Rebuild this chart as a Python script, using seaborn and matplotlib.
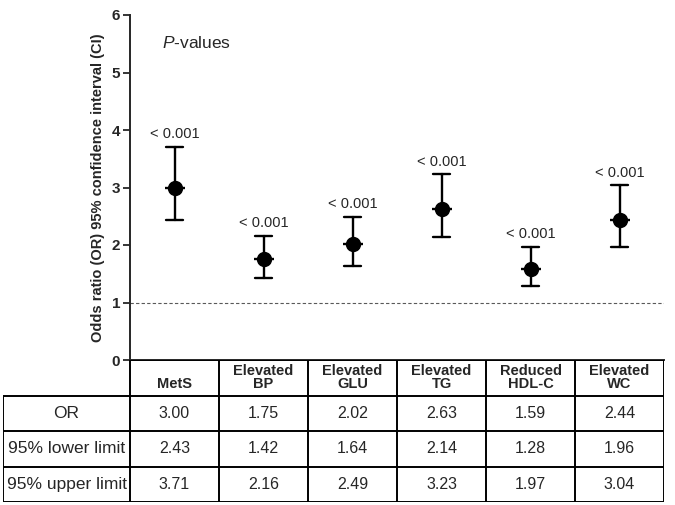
import numpy as np
import pandas as pd
import seaborn as sns
import matplotlib.pyplot as plt

groups = ["MetS", "Elevated\nBP", "Elevated\nGLU", "Elevated\nTG", "Reduced\nHDL-C", "Elevated\nWC"]
or_vals = [3.00, 1.75, 2.02, 2.63, 1.59, 2.44]
lower = [2.43, 1.42, 1.64, 2.14, 1.28, 1.96]
upper = [3.71, 2.16, 2.49, 3.23, 1.97, 3.04]
p_labels = ["< 0.001", "< 0.001", "< 0.001", "< 0.001", "< 0.001", "< 0.001"]
row_labels = ["OR", "95% lower limit", "95% upper limit"]

sns.set_style("ticks")
plt.rcParams['font.family'] = ['Liberation Sans', 'DejaVu Sans']
plt.rcParams['mathtext.fontset'] = 'custom'
plt.rcParams['mathtext.rm'] = 'Liberation Sans'
plt.rcParams['mathtext.it'] = 'Liberation Sans:italic'

# long format: lower / OR / upper per group -> median = OR, min/max = CI
df = pd.DataFrame({
    "group": np.repeat(groups, 3),
    "value": np.column_stack([lower, or_vals, upper]).ravel(),
})

W, H = 675, 505
fig = plt.figure(figsize=(W / 100, H / 100), dpi=100)
ax = fig.add_axes([130 / W, 1 - 360 / H, 534 / W, 345 / H])

sns.pointplot(data=df, x="group", y="value", estimator="median",
              errorbar=lambda v: (v.min(), v.max()),
              color="black", linestyle="none", marker="o", markersize=9,
              capsize=0.18, err_kws={"linewidth": 1.7}, ax=ax)
# short horizontal bar through each point
ax.plot(range(len(groups)), or_vals, ls="none", marker="_", ms=14, mew=1.7, color="black")

for i, p in enumerate(p_labels):
    ax.annotate(p, (i, upper[i]), xytext=(0, 4), textcoords="offset points",
                ha="center", va="bottom", fontsize=10.5)

ax.axhline(1, color="0.35", lw=0.8, ls=(0, (3, 2)), zorder=0)
ax.text(0.06, 0.92, r"$\it{P}$-values", transform=ax.transAxes, fontsize=12.5, va="center")

ax.set_xlim(-0.5, len(groups) - 0.5)
ax.set_ylim(0, 6)
ax.set_yticks(range(7))
ax.set_xticks([])
ax.set_xlabel("")
ax.set_ylabel("Odds ratio (OR) 95% confidence interval (CI)", fontsize=10.5, fontweight="bold", labelpad=5)
ax.tick_params(axis="y", direction="out", length=5, width=1.3, labelsize=11, pad=2)
for t in ax.get_yticklabels():
    t.set_fontweight("bold")
sns.despine(ax=ax)
ax.spines["left"].set_linewidth(1.4)
ax.spines["bottom"].set_linewidth(1.4)

# table below the plot, sharing the column positions
lab_w = 127 / 89
ax_t = fig.add_axes([3 / W, 1 - 502 / H, 661 / W, 142 / H])
ax_t.set_xlim(-0.5 - lab_w, len(groups) - 0.5)
ax_t.set_ylim(4, 0)
ax_t.axis("off")
lw = 1.4
ax_t.hlines(0, -0.5, len(groups) - 0.5, color="black", lw=lw)
ax_t.hlines([1, 2, 3, 4], -0.5 - lab_w, len(groups) - 0.5, color="black", lw=lw)
ax_t.vlines(np.arange(len(groups) + 1) - 0.5, 0, 4, color="black", lw=lw)
ax_t.vlines(-0.5 - lab_w, 1, 4, color="black", lw=lw)

for i, g in enumerate(groups):
    txt = g if "\n" in g else "\n" + g
    ax_t.text(i, 0.5, txt, ha="center", va="center", fontsize=10.5,
              fontweight="bold", linespacing=0.95)
table_rows = [or_vals, lower, upper]
for r, (lab, vals) in enumerate(zip(row_labels, table_rows)):
    ax_t.text(-0.5 - lab_w / 2, r + 1.5, lab, ha="center", va="center", fontsize=12.5)
    for i, v in enumerate(vals):
        ax_t.text(i, r + 1.5, f"{v:.2f}", ha="center", va="center", fontsize=11.5)

fig.savefig("out.png", dpi=100)
